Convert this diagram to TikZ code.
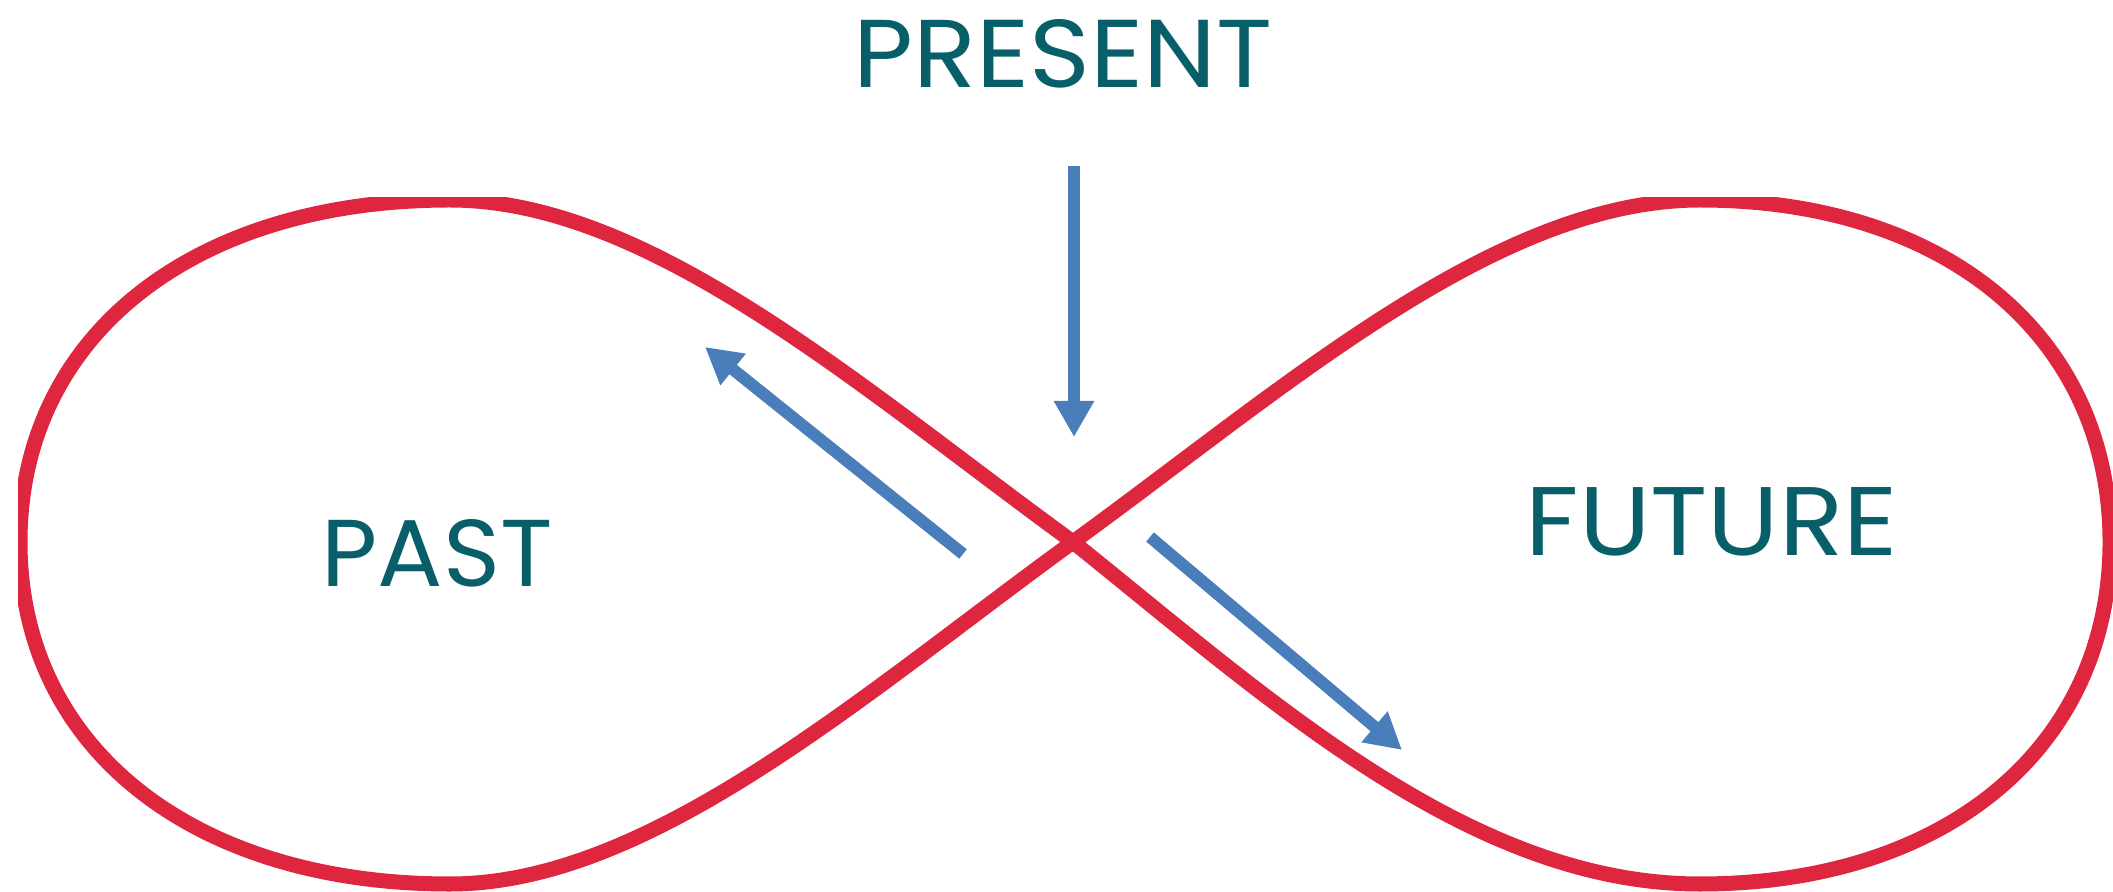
\documentclass[tikz,border=0pt]{standalone}
\usepackage{graphicx}
\usepackage{fontspec}
\setmainfont{Poppins}
\usetikzlibrary{arrows.meta, positioning}
\definecolor{loopred}{RGB}{222, 38, 62}
\definecolor{arrowblue}{RGB}{74, 126, 187}
\definecolor{textteal}{RGB}{8, 94, 105}
\tikzset{
	timeline/.style={draw=loopred, line width=0.15cm},
	flow/.style={draw=arrowblue, line width=0.12cm, -{Triangle[width=0.38cm, length=0.36cm]}},
	timetext/.style={text=textteal, inner sep=0pt, font=\fontsize{27.8}{30}\selectfont}
}
\begin{document}
\begin{tikzpicture}[x=0.01cm, y=-0.01cm]
	\useasboundingbox (0,0) rectangle (2113,892);
	\coordinate (cross) at (1073,542);
	% the infinity loop, cut at the top and left like the picture
	\begin{scope}
		\clip (18,198) rectangle (2113,892);
		\draw[timeline] (cross) .. controls (861,388) and (650,200) .. (450,200)
			.. controls (192,200) and (20,337) .. (20,542)
			.. controls (20,747) and (192,884) .. (450,884)
			.. controls (650,884) and (861,696) .. (cross)
			.. controls (1285,388) and (1496,200) .. (1700,200)
			.. controls (1946,200) and (2110,337) .. (2110,542)
			.. controls (2110,747) and (1946,884) .. (1700,884)
			.. controls (1470,884) and (1270,700) .. cycle;
	\end{scope}
	\node[timetext] (present) at (1063,54) {\resizebox{4.19cm}{0.68cm}{PRESENT}};
	\node[timetext] (past) at (437,553) {\resizebox{2.31cm}{0.67cm}{PAST}};
	\node[timetext, anchor=west] (future) at (1525,522) {\resizebox{3.72cm}{0.68cm}{FUTURE}};
	\coordinate (nowtop) at (1074,166);
	\coordinate (nowtip) at (1074,437);
	\coordinate (pasttail) at (963,554);
	\coordinate (pasttip) at (705,347);
	\coordinate (futtail) at (1150,537);
	\coordinate (futtip) at (1402,750);
	\draw[flow] (nowtop) -- (nowtip);
	\draw[flow] (pasttail) -- (pasttip);
	\draw[flow] (futtail) -- (futtip);
\end{tikzpicture}
\end{document}
